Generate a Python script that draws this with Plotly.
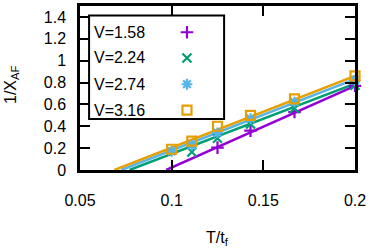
import numpy as np
import plotly.graph_objects as go

# ---- data ----
labels = ["V=1.58", "V=2.24", "V=2.74", "V=3.16"]
colors = ["#9400D3", "#009E73", "#56B4E9", "#E69F00"]
symbols = ["cross-thin-open", "x-thin-open", "asterisk-open", "square-open"]

x_v158 = [0.125, 0.143, 0.167, 0.2]
y_v158 = [0.205, 0.36, 0.53, 0.77]
x_v224 = [0.111, 0.125, 0.143, 0.167, 0.2]
y_v224 = [0.165, 0.29, 0.42, 0.565, 0.775]
x_v274 = [0.1, 0.111, 0.125, 0.143, 0.167, 0.2]
y_v274 = [0.17, 0.225, 0.34, 0.47, 0.62, 0.82]
x_v316 = [0.1, 0.111, 0.125, 0.143, 0.167, 0.2]
y_v316 = [0.19, 0.265, 0.40, 0.50, 0.65, 0.86]

# linear fits: y = slope * (x - x0)
fit_x0 = [0.097, 0.077, 0.0725, 0.0688]
fit_slope = [7.48, 6.42, 6.51, 6.56]

xs = [x_v158, x_v224, x_v274, x_v316]
ys = [y_v158, y_v224, y_v274, y_v316]

x_ticks = [0.05, 0.1, 0.15, 0.2]
x_ticktext = ["0.05", "0.1", "0.15", "0.2"]
y_ticks = [0, 0.2, 0.4, 0.6, 0.8, 1.0, 1.2, 1.4]
y_ticktext = ["0", "0.2", "0.4", "0.6", "0.8", "1", "1.2", "1.4"]

FONT = "Liberation Sans, Arial"

fig = go.Figure()

for i in range(4):
    lx = np.linspace(fit_x0[i], 0.2, 20)
    ly = fit_slope[i] * (lx - fit_x0[i])
    fig.add_trace(go.Scatter(x=lx, y=ly, mode="lines",
                             line=dict(color=colors[i], width=2.5),
                             showlegend=False, hoverinfo="skip"))

for i in range(4):
    fig.add_trace(go.Scatter(x=xs[i], y=ys[i], mode="markers",
                             marker=dict(symbol=symbols[i], color=colors[i], size=9,
                                         line=dict(color=colors[i], width=2.2)),
                             showlegend=False, cliponaxis=False))

# custom legend (gnuplot style: text left, symbol right)
leg_y = [0.840, 0.683, 0.523, 0.365]
for i in range(4):
    fig.add_trace(go.Scatter(x=[0.389], y=[leg_y[i]], xaxis="x2", yaxis="y2",
                             mode="markers",
                             marker=dict(symbol=symbols[i], color=colors[i], size=9,
                                         line=dict(color=colors[i], width=2.2)),
                             showlegend=False, hoverinfo="skip"))
    fig.add_annotation(x=0.042, y=leg_y[i], xref="paper", yref="paper",
                       text=labels[i], showarrow=False, xanchor="left", yanchor="middle",
                       font=dict(size=16, color="black", family=FONT))

fig.add_shape(type="rect", xref="paper", yref="paper", x0=0.033, x1=0.524, y0=0.311, y1=0.942,
              line=dict(color="black", width=2), fillcolor="rgba(0,0,0,0)", layer="above")

# axis titles
fig.add_annotation(x=0.5, y=-0.42, xref="paper", yref="paper", text="T/t<sub>f</sub>",
                   showarrow=False, xanchor="center", yanchor="middle",
                   font=dict(size=16, color="black", family=FONT))
fig.add_annotation(x=-0.25, y=0.52, xref="paper", yref="paper", text="1/X<sub>AF</sub>",
                   showarrow=False, xanchor="center", yanchor="middle", textangle=-90,
                   font=dict(size=16, color="black", family=FONT))

axis_common = dict(showgrid=False, zeroline=False, ticks="inside", ticklen=10, tickwidth=2,
                   tickcolor="black", showline=True, linecolor="black", linewidth=2.5,
                   mirror="allticks", tickfont=dict(size=16, color="black", family=FONT))

fig.update_layout(
    width=370, height=252,
    margin=dict(l=80, r=15, t=3, b=82),
    paper_bgcolor="white", plot_bgcolor="white",
    xaxis=dict(range=[0.05, 0.2], tickvals=x_ticks, ticktext=x_ticktext,
               ticklabelstandoff=14, **axis_common),
    yaxis=dict(range=[0, 1.5], tickvals=y_ticks, ticktext=y_ticktext,
               ticklabelstandoff=8, **axis_common),
    xaxis2=dict(range=[0, 1], overlaying="x", visible=False, fixedrange=True),
    yaxis2=dict(range=[0, 1], overlaying="y", visible=False, fixedrange=True),
    showlegend=False,
)

fig.write_html("out.html", config={"displayModeBar": False},
               post_script="document.body.style.margin='0';")
